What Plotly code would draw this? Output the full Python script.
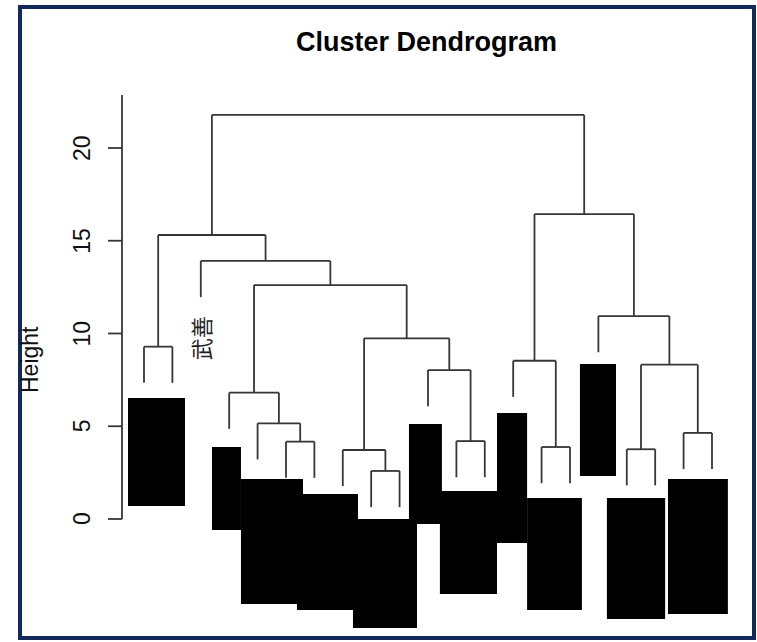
import plotly.graph_objects as go

# ---------------- data ----------------
# hclust-style merge matrix (negative = leaf position in plotted order, positive = merge row, 1-based)
merge_left = [-9, -8, -18, -15, -6, -12, -20, -5, -4, -11, 3, -14, -1, 2, -17, 9, -3, 13, 12, 18]
merge_right = [-10, 1, -19, -16, -7, -13, -21, 5, 8, 6, 7, 4, -2, 10, 11, 14, 16, 17, 15, 19]
merge_height = [2.59, 3.72, 3.76, 3.88, 4.17, 4.20, 4.64, 5.16, 6.81, 8.03,
                8.32, 8.53, 9.29, 9.74, 10.94, 12.61, 13.91, 15.31, 16.44, 21.78]
n_leaves = 21
leaf_labels = [""] * n_leaves
leaf_labels[2] = "武善"          # the only legible leaf label; the others are blacked out
hang = 1.95

# blacked-out label areas (leaf-position units, height units)
box_left = [0.437, 3.394, 4.415, 6.387, 8.359, 10.33, 11.42, 13.43, 14.49, 16.35, 17.30, 19.45]
box_right = [2.444, 4.415, 6.599, 8.535, 10.613, 11.49, 13.43, 14.49, 16.42, 17.62, 19.35, 21.56]
box_top = [6.52, 3.88, 2.16, 1.35, 0.00, 5.12, 1.51, 5.71, 1.13, 8.36, 1.13, 2.16]
box_bottom = [0.70, -0.59, -4.58, -4.91, -5.88, -0.27, -4.04, -1.29, -4.91, 2.32, -5.39, -5.12]

y_ticks = [0, 5, 10, 15, 20]
y_axis_top = 22.86
title = "Cluster Dendrogram"
y_title = "Height"

# ---------------- geometry helpers ----------------
W, H = 757, 642
x_range = [-4.070, 22.585]
y_range = [-6.631, 27.978]


def px_x(p):
    return p / W


def px_y(p):
    return 1 - p / H


centers = []
seg_x, seg_y = [], []
for i in range(len(merge_height)):
    h = merge_height[i]
    xs = []
    for c in (merge_left[i], merge_right[i]):
        if c < 0:
            x = -c
            bottom = h - hang
        else:
            x = centers[c - 1]
            bottom = merge_height[c - 1]
        xs.append(x)
        seg_x += [x, x, None]
        seg_y += [bottom, h, None]
    seg_x += [xs[0], xs[1], None]
    seg_y += [h, h, None]
    centers.append((xs[0] + xs[1]) / 2)

line_col = "#363636"
fig = go.Figure()

# blacked-out label blocks
fig.add_trace(go.Bar(
    x=[(l + r) / 2 for l, r in zip(box_left, box_right)],
    width=[r - l for l, r in zip(box_left, box_right)],
    base=box_bottom,
    y=[t - b for t, b in zip(box_top, box_bottom)],
    marker=dict(color="black", line=dict(width=0)),
    hoverinfo="skip", showlegend=False,
))

# dendrogram
fig.add_trace(go.Scatter(x=seg_x, y=seg_y, mode="lines",
                         line=dict(color=line_col, width=1.8),
                         hoverinfo="skip", showlegend=False))

# custom y axis
ax_x = 0.2254
tick_len = 0.49
axx = [ax_x, ax_x, None]
axy = [0, y_axis_top, None]
for t in y_ticks:
    axx += [ax_x - tick_len, ax_x, None]
    axy += [t, t, None]
fig.add_trace(go.Scatter(x=axx, y=axy, mode="lines",
                         line=dict(color=line_col, width=1.8),
                         hoverinfo="skip", showlegend=False))

annotations = []
for t in y_ticks:
    annotations.append(dict(x=px_x(82), y=t, xref="paper", yref="y", text=str(t),
                            showarrow=False, textangle=-90, xanchor="center", yanchor="middle",
                            font=dict(family="Liberation Sans", size=23, color="#111")))

# leaf labels (only legible one)
for i, lab in enumerate(leaf_labels):
    if lab:
        parent_h = None
        for k in range(len(merge_height)):
            if merge_left[k] == -(i + 1) or merge_right[k] == -(i + 1):
                parent_h = merge_height[k]
        annotations.append(dict(x=i + 1 - 0.05, y=parent_h - hang - 0.9, xref="x", yref="y", text=lab,
                                showarrow=False, textangle=-90, xanchor="center", yanchor="top",
                                font=dict(family="Noto Sans CJK SC", size=22, color="#222")))

annotations.append(dict(x=px_x(30), y=px_y(360), xref="paper", yref="paper", text=y_title,
                        showarrow=False, textangle=-90, xanchor="center", yanchor="middle",
                        font=dict(family="Liberation Sans", size=23, color="#111")))
annotations.append(dict(x=px_x(426), y=px_y(42), xref="paper", yref="paper", text="<b>" + title + "</b>",
                        showarrow=False, xanchor="center", yanchor="middle",
                        font=dict(family="Liberation Sans", size=27, color="black")))

# frame around the whole picture
shapes = [dict(type="rect", xref="paper", yref="paper",
               x0=px_x(20), x1=px_x(754), y0=px_y(638), y1=px_y(7),
               line=dict(color="#12295b", width=4), fillcolor="rgba(0,0,0,0)", layer="above")]

fig.update_layout(
    width=W, height=H, margin=dict(l=0, r=0, t=0, b=0),
    paper_bgcolor="white", plot_bgcolor="white",
    barmode="overlay",
    xaxis=dict(range=x_range, visible=False, fixedrange=True),
    yaxis=dict(range=y_range, visible=False, fixedrange=True),
    annotations=annotations, shapes=shapes,
)

fig.write_html("out.html")
